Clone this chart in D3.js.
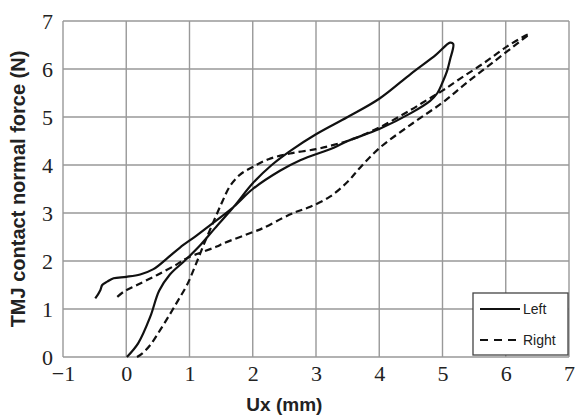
<!DOCTYPE html>
<html>
<meta charset="utf-8">
<style>
body { margin: 0; background: #fff; }
.title { font-family: "Liberation Sans", Arial, sans-serif; font-weight: bold; fill: #222; }
.legend text { font-family: "Liberation Sans", Arial, sans-serif; font-size: 14px; fill: #222; }
</style>
<body>
<script src="https://d3js.org/d3.v7.min.js"></script>
<script>
var width = 578,
    height = 420;

var margin = {top: 21, right: 9, bottom: 63, left: 63};

// Left (solid) : loading then unloading
var leftUx = [0.01, 0.19, 0.38, 0.52, 0.69, 0.92, 1.15, 1.4, 1.7, 2.0, 2.3, 2.6, 3.0, 3.5, 4.0, 4.5, 4.9, 5.12,
              5.17, 5.12, 5.07, 5.01, 4.92, 4.8, 4.5, 4.0, 3.5, 3.28, 2.75, 2.43, 2.0, 1.7, 1.4, 1.1, 0.85, 0.65, 0.43, 0.22, 0.0, -0.2, -0.3, -0.38, -0.41, -0.49];
var leftF  = [0, 0.29, 0.84, 1.38, 1.72, 2.0, 2.3, 2.68, 3.13, 3.62, 4.0, 4.3, 4.64, 5.0, 5.38, 5.9, 6.3, 6.55,
              6.52, 6.2, 5.95, 5.75, 5.5, 5.33, 5.08, 4.75, 4.5, 4.36, 4.1, 3.88, 3.5, 3.13, 2.82, 2.52, 2.28, 2.06, 1.83, 1.72, 1.67, 1.64, 1.57, 1.5, 1.39, 1.22];

// Right (dashed)
var rightUx = [0.17, 0.25, 0.38, 0.54, 0.69, 0.82, 0.96, 1.1, 1.25, 1.4, 1.52, 1.64, 1.8, 2.0, 2.25, 2.59, 3.0, 3.28, 3.54, 4.0, 4.5, 4.75, 5.0, 5.28, 5.65, 6.01, 6.33, 6.37,
               6.22, 5.8, 5.38, 5.0, 4.53, 4.0, 3.7, 3.5, 3.22, 2.91, 2.7, 2.48, 2.17, 2.0, 1.54, 1.43, 0.96, 0.8, 0.49, 0.17, -0.04, -0.17];
var rightF  = [0, 0.07, 0.25, 0.57, 0.89, 1.18, 1.5, 1.93, 2.42, 2.88, 3.24, 3.56, 3.8, 3.96, 4.12, 4.24, 4.33, 4.42, 4.52, 4.78, 5.15, 5.35, 5.55, 5.8, 6.12, 6.46, 6.71, 6.73,
               6.57, 6.14, 5.71, 5.3, 4.87, 4.35, 3.95, 3.65, 3.34, 3.13, 3.03, 2.9, 2.69, 2.6, 2.37, 2.3, 2.06, 1.93, 1.71, 1.5, 1.36, 1.22];

var xTicks = [-1, 0, 1, 2, 3, 4, 5, 6, 7];
var yTicks = [0, 1, 2, 3, 4, 5, 6, 7];

var seriesNames = ["Left", "Right"];

var svg = d3.select("body").append("svg")
    .attr("width", width)
    .attr("height", height);

var g = svg.append("g")
    .attr("transform", "translate(" + margin.left + "," + margin.top + ")");

var w = width - margin.left - margin.right,
    h = height - margin.top - margin.bottom;

var x = d3.scaleLinear().domain([-1, 7]).range([0, w]);
var y = d3.scaleLinear().domain([0, 7]).range([h, 0]);

// grid
g.append("g").selectAll("line")
  .data(xTicks)
  .enter().append("line")
    .attr("x1", function(d) { return x(d); })
    .attr("x2", function(d) { return x(d); })
    .attr("y1", 0).attr("y2", h)
    .style("stroke", "#999").style("stroke-width", 1.4);

g.append("g").selectAll("line")
  .data(yTicks)
  .enter().append("line")
    .attr("y1", function(d) { return y(d); })
    .attr("y2", function(d) { return y(d); })
    .attr("x1", 0).attr("x2", w)
    .style("stroke", "#999").style("stroke-width", 1.4);

// axes (labels only)
var xAxis = g.append("g")
    .attr("transform", "translate(0," + h + ")")
    .call(d3.axisBottom(x).tickValues(xTicks).tickSize(0).tickPadding(8).tickFormat(d3.format("d")));
xAxis.select(".domain").remove();

var yAxis = g.append("g")
    .call(d3.axisLeft(y).tickValues(yTicks).tickSize(0).tickPadding(10).tickFormat(d3.format("d")));
yAxis.select(".domain").remove();

g.selectAll(".tick text")
    .style("font-family", "'Liberation Serif', serif")
    .style("font-size", "22px")
    .style("fill", "#222");

// curves
var line = d3.line()
    .x(function(d) { return x(d[0]); })
    .y(function(d) { return y(d[1]); })
    .curve(d3.curveCatmullRom.alpha(0.5));

var leftData = d3.zip(leftUx, leftF);
var rightData = d3.zip(rightUx, rightF);

g.append("path")
    .datum(rightData)
    .attr("d", line)
    .style("fill", "none")
    .style("stroke", "#111")
    .style("stroke-width", 2.2)
    .style("stroke-dasharray", "7,4");

g.append("path")
    .datum(leftData)
    .attr("d", line)
    .style("fill", "none")
    .style("stroke", "#111")
    .style("stroke-width", 2.2);

// legend
var lg = g.append("g").attr("class", "legend")
    .attr("transform", "translate(" + (w - 96) + "," + (h - 64) + ")");
lg.append("rect")
    .attr("width", 95).attr("height", 62)
    .style("fill", "#fff").style("stroke", "#444").style("stroke-width", 1.3);

seriesNames.forEach(function(name, i) {
  var yy = 16 + i * 31;
  lg.append("line")
    .attr("x1", 7).attr("x2", 47)
    .attr("y1", yy).attr("y2", yy)
    .style("stroke", "#111").style("stroke-width", 2)
    .style("stroke-dasharray", i === 1 ? "8,6" : null);
  lg.append("text")
    .attr("x", 50).attr("y", yy + 5)
    .text(name);
});

// titles
g.append("text")
    .attr("class", "title")
    .attr("x", x(2.5))
    .attr("y", h + 54)
    .attr("text-anchor", "middle")
    .style("font-size", "19px")
    .text("Ux (mm)");

g.append("text")
    .attr("class", "title")
    .attr("transform", "translate(" + (-38) + "," + (h / 2) + ") rotate(-90)")
    .attr("text-anchor", "middle")
    .style("font-size", "20px")
    .text("TMJ contact normal force (N)");
</script>
</body>
</html>
